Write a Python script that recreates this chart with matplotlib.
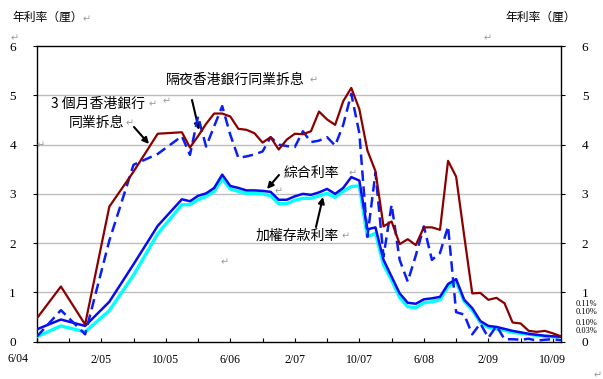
import matplotlib
matplotlib.use("Agg")
import matplotlib.pyplot as plt
import numpy as np

# ---------------- data ----------------
# month offsets from Jun-2004 (quarterly until Dec-2005, monthly afterwards)
months = [0, 3, 6, 9, 12, 15, 18] + list(range(19, 66))

hibor_3m = [0.47, 1.12, 0.35, 2.74, 3.45, 4.22, 4.25,
            3.94, 4.17, 4.42, 4.63, 4.63, 4.57, 4.32, 4.30, 4.23, 4.04,
            4.15, 3.90, 4.10, 4.22, 4.21, 4.27, 4.67, 4.51, 4.40, 4.88,
            5.15, 4.72, 3.88, 3.46, 2.34, 2.44, 1.98, 2.08, 1.96, 2.32,
            2.32, 2.27, 3.67, 3.35, 2.15, 0.98, 0.99, 0.85, 0.89, 0.78,
            0.39, 0.37, 0.22, 0.20, 0.22, 0.17, 0.11]

hibor_on = [0.10, 0.64, 0.15, 2.05, 3.59, 3.81, 4.17,
            3.79, 4.57, 3.96, 4.37, 4.78, 4.20, 3.73, 3.76, 3.80, 3.86,
            4.15, 4.00, 3.97, 3.95, 4.27, 4.05, 4.08, 4.15, 3.98, 4.40,
            5.03, 4.23, 2.13, 3.43, 1.73, 2.78, 1.66, 1.22, 1.75, 2.34,
            1.66, 1.80, 2.34, 0.60, 0.55, 0.15, 0.37, 0.08, 0.32, 0.05,
            0.05, 0.04, 0.06, 0.02, 0.04, 0.05, 0.03]

composite = [0.25, 0.45, 0.32, 0.81, 1.57, 2.35, 2.89,
             2.85, 2.96, 3.01, 3.12, 3.39, 3.16, 3.12, 3.07, 3.07, 3.06,
             3.04, 2.88, 2.88, 2.95, 3.00, 2.98, 3.03, 3.10, 3.00, 3.12,
             3.34, 3.27, 2.28, 2.32, 1.66, 1.32, 0.98, 0.79, 0.77, 0.86,
             0.88, 0.91, 1.17, 1.27, 0.85, 0.68, 0.42, 0.32, 0.30, 0.26,
             0.22, 0.19, 0.16, 0.14, 0.12, 0.11, 0.10]

deposit = [0.10, 0.32, 0.20, 0.63, 1.35, 2.19, 2.78,
           2.78, 2.88, 2.95, 3.05, 3.30, 3.10, 3.05, 3.01, 3.01, 3.00,
           2.96, 2.80, 2.80, 2.87, 2.91, 2.91, 2.96, 3.01, 2.93, 3.05,
           3.15, 3.16, 2.13, 2.20, 1.56, 1.25, 0.90, 0.71, 0.69, 0.79,
           0.81, 0.85, 1.12, 1.22, 0.82, 0.64, 0.39, 0.29, 0.26, 0.23,
           0.19, 0.17, 0.15, 0.13, 0.11, 0.10, 0.10]

xtick_pos = [0, 8, 16, 24, 32, 40, 48, 56, 64]
xtick_labels = ["6/04", "2/05", "10/05", "6/06", "2/07", "10/07", "6/08", "2/09", "10/09"]
end_labels = ["0.11%", "0.10%", "0.10%", "0.03%"]

# ---------------- figure ----------------
CJK = ["Noto Sans CJK TC", "DejaVu Sans"]
SERIF = ["Liberation Serif", "DejaVu Serif"]

fig = plt.figure(figsize=(6.03, 3.79), dpi=100)
ax = fig.add_axes([0.0609, 0.0984, 0.8694, 0.7802])

ax.plot(months, deposit, color="#00FFFF", lw=2.4, zorder=3)
ax.plot(months, composite, color="#0A0AF0", lw=1.8, zorder=4)
ax.plot(months, hibor_on, color="#0A1EF5", lw=1.8, dashes=(4.2, 2.2), zorder=5)
ax.plot(months, hibor_3m, color="#8B0000", lw=1.6, zorder=6)

ax.set_xlim(0, 65)
ax.set_ylim(0, 6)
ax.set_yticks(range(0, 7))
ax.set_yticklabels([str(i) for i in range(7)], family=SERIF, fontsize=9.5)
for y in range(1, 6):
    ax.axhline(y, color="#BDBDBD", lw=1.0, zorder=1)

tick_locs = list(range(0, 66, 4))
ax.set_xticks(tick_locs)
labels_full = []
for t in tick_locs:
    if t in xtick_pos and t != 0:
        labels_full.append(xtick_labels[xtick_pos.index(t)])
    else:
        labels_full.append("")
ax.set_xticklabels(labels_full, family=SERIF, fontsize=8.5)
ax.tick_params(axis="x", direction="in", length=3, width=0.8, pad=9)
ax.text(-2.3, -0.22, xtick_labels[0], family=SERIF, fontsize=8.5,
        ha="center", va="top", transform=ax.transData, clip_on=False)

ax.tick_params(axis="y", direction="out", length=3, width=0.8, pad=12,
               right=True, labelright=True)
for t in ax.yaxis.get_major_ticks():
    t.label2.set_fontfamily(SERIF)
    t.label2.set_fontsize(9.5)

for s in ax.spines.values():
    s.set_linewidth(1.0)
    s.set_color("black")

# axis titles
fig.text(12 / 603, 1 - 17 / 379, "年利率（厘）", family=CJK, fontsize=8.5,
         ha="left", va="center")
fig.text(576 / 603, 1 - 17 / 379, "年利率（厘）", family=CJK, fontsize=8.5,
         ha="right", va="center")

gray = "#9A9A9A"
def ret(x, y, size=7):
    fig.text(x / 603, 1 - y / 379, "↵", family=["DejaVu Sans"], fontsize=size,
             color=gray, ha="center", va="center")

ret(87, 19)
ret(15, 38)
ret(488, 38)
ret(41, 145)
ret(314, 80)
ret(153, 104)
ret(167, 101)
ret(130, 123)
ret(353, 173)
ret(346, 236)
ret(279, 191)
ret(225, 262)
ret(598, 375)

# annotations
ann_kw = dict(family=CJK, fontsize=10, color="black")
arrow = dict(arrowstyle="-|>", color="black", lw=1.5, mutation_scale=9,
             shrinkA=0, shrinkB=0)

fig.text(235 / 603, 1 - 80 / 379, "隔夜香港銀行同業拆息", ha="center", va="center", **ann_kw)
ax.annotate("", xy=(199 / 603, 1 - 130 / 379), xytext=(192 / 603, 1 - 100 / 379),
            xycoords="figure fraction", textcoords="figure fraction", arrowprops=arrow)

fig.text(98 / 603, 1 - 104 / 379, "3 個月香港銀行", ha="center", va="center", **ann_kw)
fig.text(97 / 603, 1 - 123 / 379, "同業拆息", ha="center", va="center", **ann_kw)
ax.annotate("", xy=(149 / 603, 1 - 144 / 379), xytext=(134 / 603, 1 - 127 / 379),
            xycoords="figure fraction", textcoords="figure fraction", arrowprops=arrow)

fig.text(311 / 603, 1 - 173 / 379, "綜合利率", ha="center", va="center", **ann_kw)
ax.annotate("", xy=(267 / 603, 1 - 189 / 379), xytext=(279 / 603, 1 - 175 / 379),
            xycoords="figure fraction", textcoords="figure fraction", arrowprops=arrow)

fig.text(297 / 603, 1 - 236 / 379, "加權存款利率", ha="center", va="center", **ann_kw)
ax.annotate("", xy=(323 / 603, 1 - 197 / 379), xytext=(316 / 603, 1 - 227 / 379),
            xycoords="figure fraction", textcoords="figure fraction", arrowprops=arrow)

# end-value labels
for lab, y in zip(end_labels, [304, 312, 323, 331]):
    fig.text(586 / 603, 1 - y / 379, lab, family=SERIF, fontsize=6,
             ha="center", va="center")

fig.savefig("out.png", dpi=100)
